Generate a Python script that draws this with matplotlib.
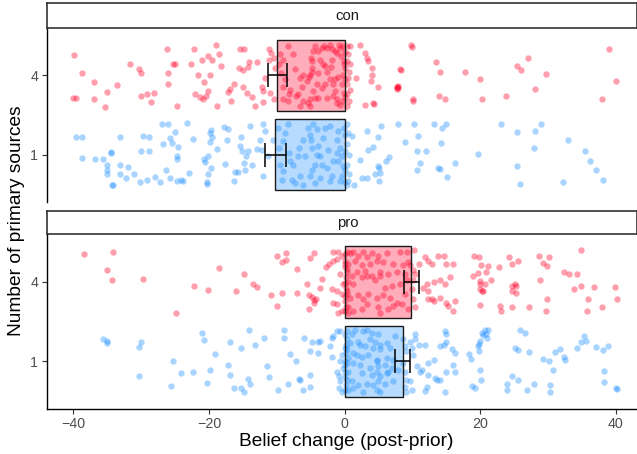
import numpy as np
import matplotlib.pyplot as plt

plt.rcParams['font.family'] = ['Liberation Sans', 'DejaVu Sans']

# facets / groups
facets = ['con', 'pro']
levels = ['1', '4']          # y = 1 -> "1", y = 2 -> "4"

# bar means and errorbar limits (belief change), order: [source 1, source 4]
means = {'con': [-10.24, -9.94], 'pro': [8.55, 9.83]}
err_lo = {'con': [-11.75, -11.36], 'pro': [7.42, 8.75]}
err_hi = {'con': [-8.66, -8.47], 'pro': [9.68, 10.91]}

# jittered raw points: (belief change, vertical jitter)
con_4 = [(-39.9, 0.26), (-38.7, 0.03), (-40.0, -0.29), (-39.6, -0.29), (-37.0, -0.08), (-37.0, -0.30),
         (-35.3, -0.40), (-35.0, -0.21), (-33.6, -0.12), (-31.7, 0.15), (-30.3, 0.08), (-30.0, 0.03),
         (-30.1, -0.26), (-29.2, -0.23), (-28.6, -0.34), (-28.2, -0.22), (-26.2, 0.33), (-26.0, 0.03),
         (-26.1, -0.11), (-25.3, 0.14), (-25.0, 0.14), (-24.8, -0.39), (-22.2, 0.33), (-22.6, 0.15),
         (-22.1, -0.23), (-21.7, 0.0), (-21.3, -0.27), (-21.0, 0.20), (-20.9, -0.30), (-20.8, -0.08),
         (-20.4, -0.26), (-20.2, 0.24), (-19.9, 0.0), (-20.1, -0.20), (-19.6, 0.20), (-19.0, 0.38),
         (-18.6, 0.27), (-18.2, 0.12), (-18.9, -0.39), (-17.2, -0.21), (-16.9, -0.17), (-16.4, -0.11),
         (-16.7, -0.32), (-15.6, 0.10), (-15.4, 0.33), (-14.9, 0.33), (-15.0, 0.07), (-15.0, -0.14),
         (-14.3, 0.11), (-14.1, 0.17), (-14.4, -0.22), (-13.7, -0.27), (-13.3, -0.38), (-13.0, 0.17),
         (-12.2, -0.14), (-12.0, -0.33), (-11.1, 0.34), (-10.8, 0.29), (-11.0, -0.22), (-10.5, -0.30),
         (-11.1, 0.19), (-10.4, 0.22), (-10.3, 0.10), (-11.8, -0.03), (-12.0, -0.20),
         (-8.31, 0.37), (-9.55, 0.27), (-9.05, 0.20), (-9.64, 0.14), (-9.44, 0.03), (-8.80, -0.05),
         (-9.05, -0.14), (-8.17, -0.23), (-9.05, -0.30), (-8.31, -0.32), (-7.33, 0.08), (-6.59, -0.03),
         (-6.10, 0.01), (-6.35, -0.14), (-6.84, -0.24), (-7.18, -0.26), (-5.61, -0.07), (-5.12, 0.01),
         (-4.87, 0.10), (-5.02, 0.22), (-4.87, 0.18), (-4.72, 0.31), (-4.38, 0.37), (-3.89, 0.31),
         (-3.40, 0.35), (-3.05, 0.37), (-2.17, 0.39), (-1.92, 0.33), (-1.43, 0.31), (-1.09, 0.29),
         (-0.69, 0.35), (-0.60, 0.24), (-0.30, 0.37), (-0.10, 0.18), (0.04, 0.10), (-0.20, 0.01),
         (-0.45, -0.11), (-0.10, -0.22), (-0.20, -0.32), (-0.69, -0.37), (-1.18, -0.30), (-1.43, -0.20),
         (-1.78, -0.11), (-2.17, -0.05), (-2.66, 0.05), (-2.91, 0.12), (-3.15, 0.14), (-2.91, -0.11),
         (-3.40, -0.16), (-4.13, -0.11), (-4.38, -0.28), (-5.12, -0.30), (-5.36, -0.35), (-5.12, -0.39),
         (-6.10, -0.32), (-6.59, -0.39), (-3.89, -0.28), (-2.66, -0.28), (-1.68, -0.26), (-1.09, -0.35),
         (-0.94, -0.02), (-1.43, -0.05), (-2.07, 0.11), (-1.92, 0.20), (-0.79, 0.39), (-2.66, 0.35),
         (-4.87, 0.05), (-5.22, -0.02), (-4.63, -0.20), (-3.89, 0.03), (-3.64, 0.20), (-8.07, -0.18),
         (-7.67, 0.27), (0.0, 0.30), (0.0, -0.05), (0.0, -0.27), (-0.05, 0.15),
         (0.29, 0.37), (0.78, 0.37), (0.54, 0.27), (0.39, 0.18), (0.78, 0.14), (0.68, 0.05),
         (0.54, -0.03), (0.29, -0.11), (0.78, -0.18), (0.39, -0.24), (0.68, -0.32), (0.39, -0.39),
         (2.26, 0.39), (2.99, 0.29), (3.34, 0.22), (3.49, 0.18), (3.98, 0.10), (3.98, 0.01),
         (3.83, -0.07), (4.96, -0.14), (1.67, -0.03), (2.99, -0.37), (4.22, -0.35), (7.66, -0.14),
         (7.91, -0.16), (8.16, 0.08), (4.27, -0.36),
         (9.73, 0.39), (9.98, 0.36), (8.25, 0.07), (7.77, -0.14), (7.67, -0.17), (7.86, -0.13),
         (10.0, -0.30), (10.1, -0.32), (13.4, 0.17), (14.0, 0.05), (13.96, -0.26), (14.8, -0.30),
         (17.7, 0.04), (20.0, -0.04), (20.2, -0.30), (23.8, -0.26), (25.4, 0.12), (26.0, 0.07),
         (27.0, 0.22), (28.1, -0.17), (29.7, 0.02), (38.9, 0.33), (40.0, -0.07), (38.0, -0.30)]

con_1 = [(-39.7, 0.22), (-38.8, 0.22), (-38.7, -0.04), (-36.9, -0.06), (-35.7, -0.05), (-34.4, 0.03),
         (-34.4, 0.02), (-35.0, -0.13), (-35.0, -0.19), (-35.0, -0.24), (-34.3, -0.38), (-34.2, -0.39),
         (-33.2, 0.22), (-33.2, -0.13), (-33.2, -0.24), (-32.2, -0.30), (-31.9, -0.16), (-31.1, -0.25),
         (-30.2, -0.35), (-30.1, 0.05), (-29.7, 0.24), (-28.9, 0.22), (-28.8, 0.04), (-29.2, -0.32),
         (-28.0, -0.28), (-27.3, -0.35), (-27.0, 0.38), (-26.8, 0.13), (-26.4, -0.20), (-26.0, 0.38),
         (-25.8, -0.30), (-25.8, 0.21), (-25.4, 0.14), (-25.0, 0.29), (-24.8, -0.02), (-24.8, -0.06),
         (-24.6, 0.10), (-24.2, -0.32), (-24.8, -0.33), (-23.8, -0.34), (-23.3, 0.40), (-23.0, -0.23),
         (-22.4, 0.20), (-20.7, -0.06), (-20.6, -0.10), (-20.3, -0.35), (-20.3, -0.37), (-20.1, -0.24),
         (-19.8, 0.27), (-19.7, 0.31), (-19.6, 0.22), (-19.9, 0.16), (-20.1, -0.02), (-18.9, 0.07),
         (-19.7, -0.17), (-17.7, -0.12), (-17.8, 0.35), (-17.2, 0.32), (-17.4, 0.19), (-16.4, -0.34),
         (-16.2, -0.22), (-15.8, -0.22), (-15.4, 0.11), (-15.3, 0.22), (-15.2, 0.05), (-14.9, -0.11),
         (-14.7, -0.19), (-14.5, -0.02), (-14.2, 0.04), (-14.0, 0.36),
         (-12.0, 0.38), (-11.75, 0.30), (-12.5, 0.19), (-13.0, 0.07), (-12.2, 0.06), (-13.7, -0.13),
         (-12.1, -0.27), (-11.3, -0.02), (-10.6, 0.19),
         (-9.79, 0.34), (-8.8, 0.27), (-8.31, 0.38), (-9.05, 0.17), (-9.64, 0.08), (-8.17, 0.02),
         (-9.6, -0.13), (-9.05, -0.21), (-9.3, -0.32), (-7.57, -0.13), (-7.33, -0.36), (-6.84, -0.02),
         (-6.10, 0.18), (-5.86, -0.02), (-5.36, 0.34), (-5.12, 0.25), (-5.02, 0.18), (-4.87, 0.08),
         (-4.63, 0.38), (-4.13, 0.32), (-3.89, 0.11), (-4.13, 0.0), (-3.64, -0.02), (-4.38, -0.13),
         (-4.87, -0.19), (-5.12, -0.27), (-6.59, -0.27), (-7.82, -0.32), (-3.64, -0.30), (-3.15, 0.21),
         (-2.91, 0.34), (-2.17, 0.36), (-0.94, 0.30), (-1.09, 0.19), (-0.69, 0.08), (-1.18, 0.02),
         (-0.45, -0.02), (-0.94, -0.08), (-0.20, -0.15), (-0.45, -0.27), (-0.69, -0.34), (-1.92, -0.27),
         (-2.17, -0.34), (-2.66, -0.17), (-1.68, -0.08), (-2.41, 0.06), (-3.40, -0.13), (-6.10, -0.38),
         (-4.38, -0.36), (-6.69, 0.08), (-8.07, -0.08), (0.0, 0.25), (0.0, 0.05), (0.0, -0.20),
         (0.0, -0.35), (-0.05, 0.33),
         (0.29, 0.38), (0.54, 0.27), (0.39, 0.13), (0.68, 0.0), (0.39, -0.13), (0.68, -0.25),
         (0.54, -0.34), (0.29, -0.38), (1.05, 0.23), (1.40, -0.38), (2.26, -0.07), (2.5, -0.30),
         (3.24, 0.30), (3.49, 0.06), (4.13, 0.10), (4.96, 0.22), (5.35, 0.36), (3.34, -0.30),
         (4.47, -0.24), (4.96, -0.15), (5.0, -0.17), (5.2, -0.23), (5.1, -0.34), (6.1, -0.08),
         (6.6, -0.03), (7.9, 0.39),
         (8.94, 0.16), (10.2, 0.38), (10.8, 0.24), (10.7, 0.04), (11.1, -0.11), (10.7, -0.19),
         (12.0, 0.04), (13.2, 0.38), (14.4, 0.34), (15.0, 0.38), (14.2, 0.14), (13.8, -0.17),
         (14.0, -0.18), (15.1, -0.28), (16.3, -0.11), (19.7, 0.01), (23.1, 0.39), (25.4, 0.28),
         (25.4, -0.14), (25.8, -0.37), (27.9, 0.08), (28.1, 0.30), (28.9, 0.38), (32.2, -0.35),
         (32.9, 0.18), (35.4, 0.05), (36.2, -0.08), (37.1, -0.19), (38.1, -0.32)]

pro_4 = [(-38.4, 0.35), (-34.2, 0.38), (-35.1, 0.15), (-34.3, 0.03), (-29.8, 0.04), (-24.9, -0.39),
         (-22.2, -0.05), (-20.1, -0.10), (-18.6, 0.18), (-16.1, -0.11), (-14.8, 0.10), (-13.6, -0.03),
         (-12.97, -0.06), (-10.9, -0.17), (-10.0, -0.30), (-10.0, 0.33), (-8.7, 0.36), (-9.2, 0.25),
         (-8.6, 0.28), (-9.2, -0.14), (-7.0, 0.16), (-7.0, -0.14), (-5.5, -0.02), (-5.1, 0.30),
         (-4.6, 0.36), (-5.3, -0.16), (-4.9, -0.19), (-4.5, -0.23), (-4.3, -0.22), (-4.6, -0.27),
         (-5.2, -0.34), (-3.7, -0.08),
         (-1.7, 0.38), (-0.94, 0.38), (-0.45, 0.33), (-2.76, 0.19), (-2.27, 0.23), (-1.68, 0.26),
         (-1.19, 0.29), (-3.4, 0.04), (-1.9, -0.09), (-1.2, -0.11), (-1.7, -0.26), (-1.2, -0.28),
         (-0.94, -0.39), (-0.45, -0.37), (-0.69, 0.10), (-0.30, -0.03), (-0.45, -0.15),
         (0.29, 0.38), (0.78, 0.36), (1.27, 0.38), (2.01, 0.33), (2.75, 0.38), (3.24, 0.31),
         (3.98, 0.36), (4.96, 0.33), (6.29, 0.36), (8.15, 0.38), (9.14, 0.38), (10.2, 0.40),
         (0.54, 0.23), (1.52, 0.27), (2.50, 0.21), (3.73, 0.23), (4.71, 0.27), (5.70, 0.25),
         (7.17, 0.23), (8.64, 0.21), (9.38, 0.25),
         (0.29, 0.12), (1.03, 0.08), (1.76, 0.12), (2.99, 0.14), (3.98, 0.08), (5.21, 0.12),
         (6.44, 0.10), (7.67, 0.12), (8.90, 0.10),
         (0.54, 0.0), (1.27, -0.03), (2.50, 0.06), (3.24, 0.07), (4.47, 0.02), (5.21, 0.08),
         (5.94, -0.07), (6.93, -0.05), (8.15, -0.03), (9.14, 0.02),
         (0.29, -0.15), (0.78, -0.20), (2.01, -0.17), (2.75, -0.22), (3.48, -0.15), (4.71, -0.20),
         (5.70, -0.17), (6.69, -0.20), (7.67, -0.26), (8.90, -0.15),
         (0.54, -0.32), (1.27, -0.36), (2.50, -0.34), (3.24, -0.28), (4.96, -0.32), (5.21, -0.39),
         (6.44, -0.34), (7.17, -0.30), (8.40, -0.28), (9.38, -0.34),
         (0.04, 0.19), (0.14, 0.06), (0.19, -0.07), (0.09, -0.24), (0.04, 0.27), (0.14, -0.32),
         (0.29, 0.16), (0.39, -0.11), (0.54, -0.39), (0.0, 0.35), (0.0, -0.01), (0.0, -0.18),
         (0.0, 0.22), (0.0, -0.37),
         (9.63, 0.21), (10.1, 0.15), (10.4, 0.10), (10.1, 0.02), (9.9, -0.09), (10.1, -0.22),
         (10.4, -0.32), (10.9, 0.23), (11.9, 0.31), (12.3, 0.27), (12.8, 0.23), (13.8, 0.33),
         (14.6, 0.33), (15.0, 0.23), (16.0, 0.23), (12.1, -0.02), (12.3, -0.11), (13.1, 0.0),
         (14.1, 0.02), (14.8, -0.03), (15.5, 0.06), (12.3, -0.22), (13.1, -0.24), (14.1, -0.20),
         (15.0, -0.26), (15.3, -0.30), (16.3, -0.24), (16.0, -0.36), (11.6, -0.07), (12.8, -0.22),
         (19.0, 0.33), (19.8, 0.32), (18.9, 0.08), (20.1, 0.21), (19.7, 0.11), (20.0, 0.01),
         (19.9, -0.02), (20.0, -0.09), (20.2, -0.12), (20.0, -0.29), (20.8, 0.12), (20.7, -0.02),
         (20.4, -0.11), (21.2, 0.20), (21.6, 0.03), (22.8, 0.19), (22.9, -0.30), (23.0, -0.37),
         (24.2, 0.32), (24.6, 0.23), (25.5, 0.27), (24.7, -0.05), (25.2, -0.05), (24.6, -0.11),
         (25.3, -0.14), (24.7, -0.32), (25.1, -0.02), (27.1, -0.32), (28.7, 0.33), (30.1, 0.32),
         (29.3, 0.24), (29.9, 0.20), (28.8, 0.03), (29.9, -0.22), (29.7, -0.37), (32.3, 0.13),
         (33.1, 0.10), (34.3, 0.10), (34.9, 0.40), (33.8, -0.09), (34.9, -0.05), (35.9, -0.22),
         (35.8, -0.37), (36.8, -0.06), (37.9, -0.31), (39.8, -0.06), (40.1, -0.22)]

pro_1 = [(-35.7, 0.28), (-35.1, 0.26), (-35.1, 0.23), (-30.0, 0.25), (-30.3, 0.18), (-30.4, -0.19),
         (-25.3, 0.01), (-25.6, -0.31), (-24.2, -0.15), (-22.4, -0.13), (-21.1, 0.36), (-20.7, 0.27),
         (-19.1, 0.09), (-19.8, -0.11), (-20.3, -0.27), (-16.9, 0.24), (-17.2, -0.04), (-16.9, -0.17),
         (-16.3, -0.33), (-15.3, -0.33), (-14.9, -0.39), (-15.3, 0.17), (-14.1, 0.39), (-14.3, -0.22),
         (-13.9, -0.28), (-13.3, 0.21), (-11.9, 0.30), (-11.4, -0.06), (-11.1, -0.20), (-9.8, -0.36),
         (-8.9, 0.40), (-9.0, 0.29), (-8.0, 0.09), (-8.4, -0.28), (-7.2, 0.0), (-6.8, -0.22),
         (-6.2, -0.36), (-6.0, 0.30), (-5.1, 0.13), (-5.1, -0.17), (-5.1, -0.32), (-4.9, 0.24),
         (-4.0, 0.25), (-3.9, 0.11),
         (-3.6, 0.26), (-1.9, 0.30), (-1.7, 0.32), (-1.2, 0.38), (-0.7, 0.38), (-2.2, 0.19),
         (-1.9, 0.06), (-6.6, -0.23), (-1.2, -0.13), (-0.9, -0.19), (-0.7, -0.25), (-0.8, -0.34),
         (-0.45, -0.38), (-0.7, 0.0), (-0.45, 0.08), (-0.3, -0.08),
         (0.29, 0.38), (1.03, 0.34), (1.52, 0.40), (2.75, 0.38), (3.24, 0.40), (3.98, 0.36),
         (4.96, 0.34), (7.41, 0.32), (0.29, 0.28), (0.78, 0.23), (2.01, 0.25), (3.73, 0.28),
         (4.47, 0.25), (5.21, 0.21), (6.19, 0.23), (0.29, 0.15), (1.27, 0.11), (2.26, 0.21),
         (2.99, 0.19), (4.22, 0.17), (5.21, 0.15), (6.69, 0.17), (0.54, 0.04), (1.76, 0.08),
         (2.50, 0.06), (3.48, 0.08), (4.71, 0.02), (4.81, 0.0), (6.19, 0.04), (7.17, 0.02),
         (0.29, -0.02), (1.27, -0.02), (2.26, -0.04), (3.73, -0.08), (4.96, -0.06), (5.94, -0.04),
         (6.93, -0.08), (7.91, -0.11), (0.54, -0.13), (2.50, -0.15), (3.98, -0.17), (4.71, -0.13),
         (5.21, -0.19), (6.19, -0.15), (6.44, -0.13), (0.29, -0.23), (1.03, -0.25), (2.01, -0.30),
         (3.24, -0.28), (4.22, -0.30), (4.96, -0.25), (5.94, -0.28), (7.17, -0.25), (0.54, -0.36),
         (1.27, -0.34), (2.75, -0.38), (4.71, -0.36), (5.21, -0.38), (0.14, 0.21), (0.19, 0.11),
         (0.09, -0.13), (0.19, -0.30), (0.09, -0.04), (0.0, 0.33), (0.0, 0.0), (0.0, -0.20),
         (0.0, -0.36), (0.0, 0.17),
         (8.6, 0.28), (8.9, 0.19), (9.1, 0.13), (8.6, -0.02), (8.9, -0.13), (9.1, -0.23),
         (8.9, -0.32), (9.1, -0.38), (9.9, -0.36), (9.6, 0.25), (10.4, 0.34), (10.4, 0.28),
         (10.9, 0.21), (11.8, 0.21), (9.9, 0.17), (10.1, 0.08), (10.6, -0.06), (11.4, -0.11),
         (12.3, -0.02), (13.1, 0.02), (14.1, 0.19), (14.6, 0.21), (15.0, 0.25), (15.8, 0.15),
         (16.3, 0.11), (14.8, 0.38), (15.0, 0.34), (11.1, -0.13), (12.3, -0.17), (13.3, -0.21),
         (13.6, -0.23), (14.1, -0.23), (15.0, -0.13), (16.0, -0.04), (16.3, -0.13), (12.1, -0.32),
         (11.8, -0.37), (14.8, -0.38), (9.6, -0.25),
         (18.3, 0.09), (18.6, 0.03), (18.8, -0.31), (19.2, -0.33), (19.7, 0.19), (19.9, 0.26),
         (19.8, 0.22), (19.8, 0.13), (20.0, -0.11), (20.1, -0.24), (20.2, 0.36), (20.7, 0.39),
         (21.2, 0.40), (20.4, 0.33), (20.8, 0.34), (21.0, 0.30), (23.9, -0.29), (24.0, -0.36),
         (24.7, -0.19), (25.5, -0.24), (25.8, 0.39), (26.6, 0.36), (25.1, 0.17), (25.5, 0.14),
         (26.9, -0.36), (27.1, 0.12), (27.9, -0.28), (29.2, 0.03), (30.1, 0.0), (30.3, -0.30),
         (30.3, -0.38), (30.7, -0.11), (31.0, 0.12), (31.8, 0.16), (32.4, 0.05), (32.5, 0.02),
         (34.3, 0.17), (34.8, 0.25), (35.3, 0.32), (35.6, 0.26), (37.1, 0.18), (38.1, 0.14),
         (38.8, 0.19), (38.3, -0.12), (38.3, -0.26), (40.0, -0.33), (40.2, -0.35)]

points = {'con': {'1': con_1, '4': con_4}, 'pro': {'1': pro_1, '4': pro_4}}

red = (1.0, 0.0, 0.16)
blue = (0.12, 0.56, 1.0)
colors = {'1': blue, '4': red}

W, H = 637, 454
fig = plt.figure(figsize=(W / 100, H / 100), dpi=100)

# [panel top, panel bottom, strip top] in pixels
layout = {'con': (28.0, 202.0, 3.3), 'pro': (234.3, 409.0, 210.7)}
x0, x1 = 46.7, 637.0

for f in facets:
    ptop, pbot, stop = layout[f]
    ax = fig.add_axes([x0 / W, 1 - pbot / H, (x1 - x0) / W, (pbot - ptop) / H])
    sax = fig.add_axes([x0 / W, 1 - ptop / H, (x1 - x0) / W, (ptop - stop) / H])

    for i, lv in enumerate(levels):
        yc = i + 1
        pts = np.array(points[f][lv])
        c = colors[lv]
        # bar fill under the points, outline on top
        ax.barh(yc, means[f][i], height=0.9, left=0, color=c + (0.32,), edgecolor='none', zorder=1)
        ax.scatter(pts[:, 0], yc + pts[:, 1], s=21, color=c, alpha=0.38, linewidths=0, zorder=2)
        ax.barh(yc, means[f][i], height=0.9, left=0, facecolor='none', edgecolor='#1a1a1a',
                linewidth=1.0, zorder=3)
        lo = means[f][i] - err_lo[f][i]
        hi = err_hi[f][i] - means[f][i]
        ax.errorbar(means[f][i], yc, xerr=[[lo], [hi]], fmt='none', ecolor='black',
                    elinewidth=1.1, capsize=8.3, capthick=1.1, zorder=4)

    ax.set_xlim(-43.95, 43.1)
    ax.set_ylim(0.4, 2.6)
    ax.set_yticks([1, 2])
    ax.set_yticklabels(levels)
    ax.set_xticks([-40, -20, 0, 20, 40])
    for s in ['top', 'right']:
        ax.spines[s].set_visible(False)
    ax.spines['left'].set_linewidth(1.0)
    ax.spines['bottom'].set_linewidth(1.0)
    ax.tick_params(axis='both', length=3.5, width=0.8, color='#333333', labelcolor='#4d4d4d',
                   labelsize=10.3, pad=2.5)
    if f == 'con':
        ax.spines['bottom'].set_visible(False)
        ax.tick_params(axis='x', bottom=False, labelbottom=False)

    # strip
    sax.set_xticks([])
    sax.set_yticks([])
    for s in sax.spines.values():
        s.set_linewidth(1.2)
        s.set_color('#333333')
    sax.text(0.51, 0.5, f, ha='center', va='center', fontsize=10.7, color='#1a1a1a',
             transform=sax.transAxes)

fig.text(346 / W, 1 - 441 / H, 'Belief change (post-prior)', ha='center', va='center', fontsize=13.8)
fig.text(17 / W, 1 - 221 / H, 'Number of primary sources', ha='center', va='center',
         rotation=90, fontsize=13.8)

fig.savefig('out.png', dpi=100)
